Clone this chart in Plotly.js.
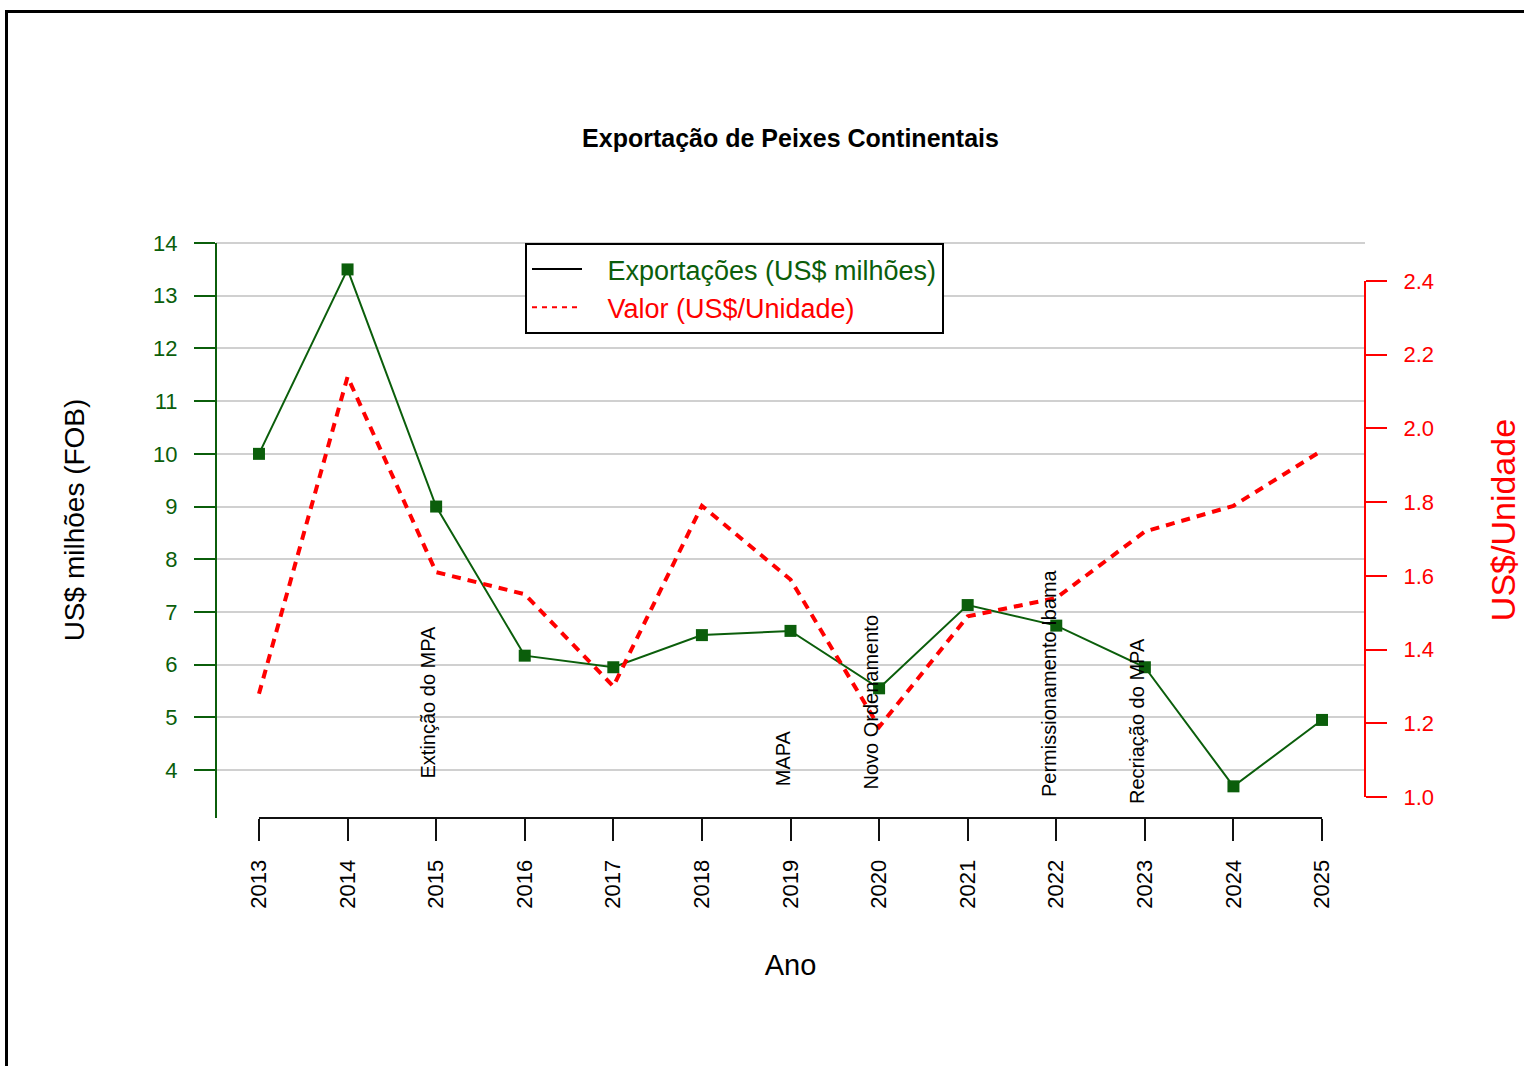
<!DOCTYPE html>
<html>
<head>
<meta charset="utf-8">
<script src="https://cdn.plot.ly/plotly-3.0.1.min.js"></script>
<style>
  html, body { margin: 0; padding: 0; background: #fff; overflow: hidden; }
  #chart { width: 1524px; height: 1066px; }
  #frame { position: absolute; left: 5px; top: 10px; width: 1700px; height: 1200px;
           border-left: 3px solid #000; border-top: 3px solid #000; pointer-events: none; }
</style>
</head>
<body>
<div id="chart"></div>
<div id="frame"></div>
<script>
// ---- data ----
const years = [2013, 2014, 2015, 2016, 2017, 2018, 2019, 2020, 2021, 2022, 2023, 2024, 2025];
const exportsMillions = [10.0, 13.5, 9.0, 6.17, 5.95, 6.56, 6.64, 5.55, 7.13, 6.74, 5.95, 3.69, 4.95];
const unitValue = [1.28, 2.14, 1.61, 1.55, 1.30, 1.79, 1.59, 1.19, 1.49, 1.54, 1.72, 1.79, 1.94];
const leftTicks = [4, 5, 6, 7, 8, 9, 10, 11, 12, 13, 14];
const rightTicks = [1.0, 1.2, 1.4, 1.6, 1.8, 2.0, 2.2, 2.4];
const eventYears = [2015, 2019, 2020, 2022, 2023];
const eventLabels = ["Extinção do MPA", "MAPA", "Novo Ordenamento", "Permissionamento Ibama", "Recriação do MPA"];

// ---- style / layout helpers ----
const FONT = "Liberation Sans, Arial, Helvetica, sans-serif";
const GREEN = "#0b5e0b";
const RED = "#ff0000";
const eventBaseY = [3.87, 3.72, 3.66, 3.53, 3.39]; // label bottoms (left-axis units)
const PAD = "\u00a0\u00a0\u2009";

const traces = [
  {
    x: years, y: exportsMillions, type: "scatter", mode: "lines+markers",
    line: { color: GREEN, width: 2 },
    marker: { symbol: "square", size: 12, color: GREEN },
    showlegend: false, yaxis: "y"
  },
  {
    x: years, y: unitValue, type: "scatter", mode: "lines",
    line: { color: RED, width: 4, dash: "9px,7px" },
    showlegend: false, yaxis: "y2"
  },
  // legend entries
  {
    x: [null], y: [null], type: "scatter", mode: "lines",
    line: { color: "#000", width: 2 },
    name: PAD + '<span style="color:' + GREEN + '">Exportações (US$ milhões)</span>'
  },
  {
    x: [null], y: [null], type: "scatter", mode: "lines",
    line: { color: RED, width: 2, dash: "5px,5px" },
    name: PAD + '<span style="color:' + RED + '">Valor (US$/Unidade)</span>'
  }
];

const annotations = eventYears.map((yr, i) => ({
  x: yr, y: eventBaseY[i], xref: "x", yref: "y",
  text: eventLabels[i], textangle: -90, showarrow: false,
  xanchor: "center", yanchor: "bottom", xshift: -8, yshift: -4,
  font: { family: FONT, size: 20, color: "#000" }
}));

const layout = {
  width: 1524, height: 1066,
  paper_bgcolor: "#fff", plot_bgcolor: "#fff",
  margin: { l: 216, r: 159, t: 222, b: 248, pad: 0 },
  font: { family: FONT, color: "#000" },
  title: {
    text: "<b>Exportação de Peixes Continentais</b>",
    font: { family: FONT, size: 25, color: "#000" },
    x: 0.5, xref: "paper", xanchor: "center",
    y: 1 - 138 / 1066, yref: "container", yanchor: "middle"
  },
  xaxis: {
    range: [2012.515, 2025.485],
    tickvals: years, ticktext: years.map(String),
    tickangle: -90, ticks: "outside", ticklen: 22, tickwidth: 2, tickcolor: "#111",
    tickfont: { family: FONT, size: 22, color: "#000" },
    ticklabelstandoff: 10,
    showgrid: false, zeroline: false, showline: false, automargin: false,
    title: { text: "Ano", font: { family: FONT, size: 29, color: "#000" }, standoff: 46 }
  },
  yaxis: {
    range: [3.089, 14.40],
    tickvals: leftTicks, ticks: "outside", ticklen: 21, tickwidth: 2, tickcolor: GREEN,
    tickfont: { family: FONT, size: 22, color: GREEN },
    ticklabelstandoff: 12,
    showline: false,
    showgrid: true, gridcolor: "#d0d0d0", gridwidth: 2,
    zeroline: false, automargin: false,
    title: { text: "US$ milhões (FOB)", font: { family: FONT, size: 28, color: "#000" }, standoff: 60 }
  },
  yaxis2: {
    overlaying: "y", side: "right",
    range: [0.943, 2.560],
    tickvals: rightTicks, ticktext: rightTicks.map(v => v.toFixed(1)),
    ticks: "outside", ticklen: 21, tickwidth: 2, tickcolor: RED,
    tickfont: { family: FONT, size: 22, color: RED },
    ticklabelstandoff: 12,
    showline: false, showgrid: false, zeroline: false, automargin: false,
    title: { text: "US$/Unidade", font: { family: FONT, size: 34, color: RED }, standoff: 58 }
  },
  legend: {
    x: (525 - 216) / 1149, y: (818 - 243) / (818 - 222), xanchor: "left", yanchor: "top",
    bgcolor: "#fff", bordercolor: "#000", borderwidth: 2,
    font: { family: FONT, size: 27 },
    itemwidth: 50, tracegroupgap: 0
  },
  shapes: [
    // left axis line from plot bottom to top tick
    { type: "line", xref: "paper", yref: "y", x0: 0, x1: 0, y0: 3.089, y1: leftTicks[leftTicks.length - 1],
      line: { color: GREEN, width: 2 } },
    // bottom axis line spanning first to last tick
    { type: "line", xref: "x", yref: "paper", x0: years[0], x1: years[years.length - 1], y0: 0, y1: 0,
      line: { color: "#111", width: 2 } },
    // right axis line spanning first to last tick
    { type: "line", xref: "paper", yref: "y2", x0: 1, x1: 1, y0: rightTicks[0], y1: rightTicks[rightTicks.length - 1],
      line: { color: RED, width: 2 } }
  ],
  annotations: annotations,
  hovermode: false
};

Plotly.newPlot("chart", traces, layout, { displayModeBar: false, staticPlot: true });
</script>
</body>
</html>
